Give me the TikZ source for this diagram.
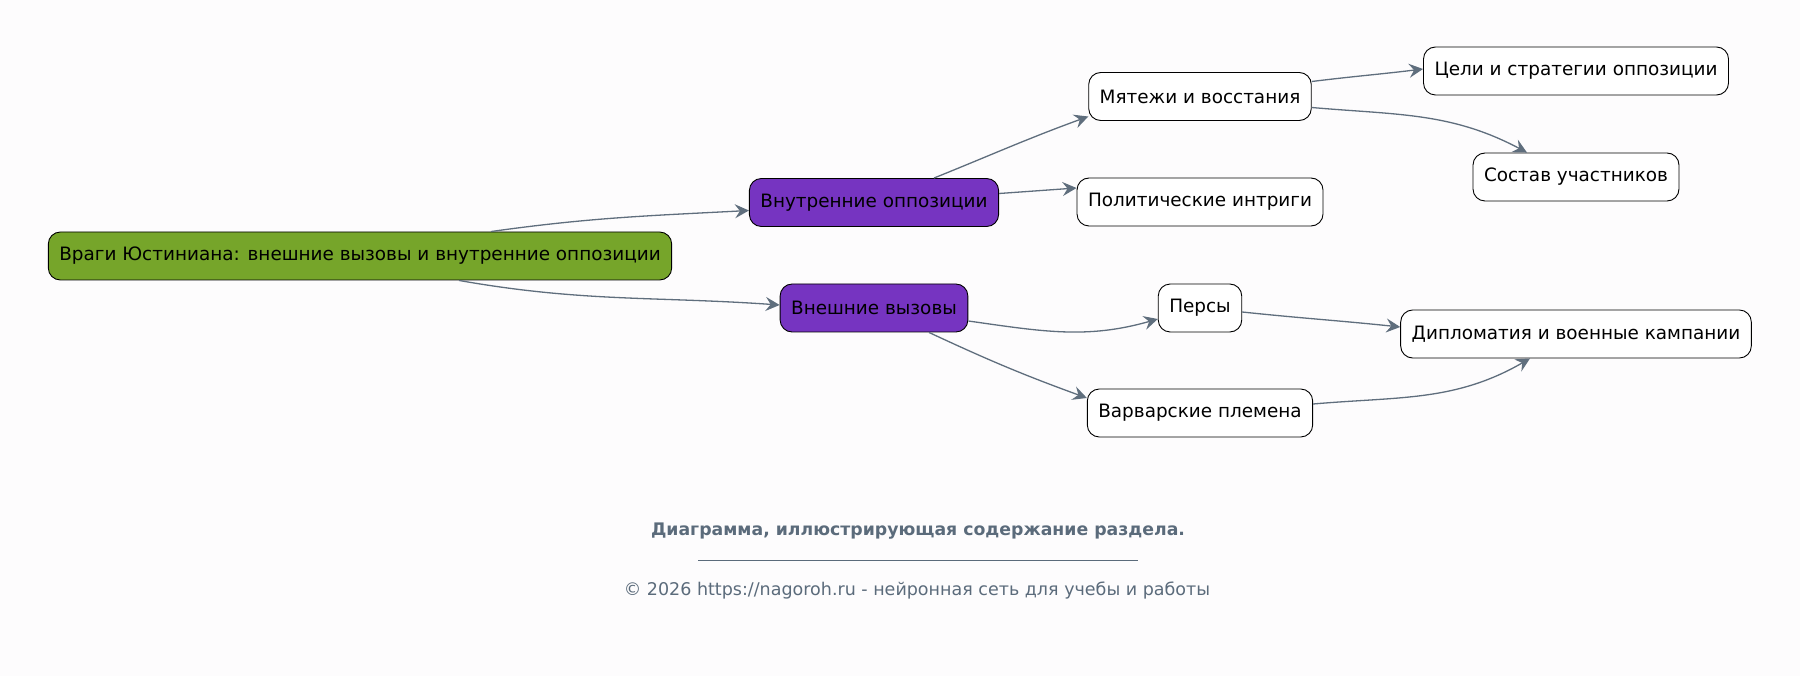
\documentclass[tikz,border=0pt]{standalone}
\usepackage{fontspec}
\setmainfont{DejaVu Sans}
\usetikzlibrary{arrows.meta}
\definecolor{rootgreen}{HTML}{76A52A}
\definecolor{branchviolet}{HTML}{7634C1}
\definecolor{edgeslate}{HTML}{5F6E7D}
\definecolor{captionslate}{HTML}{5B6B7B}
\definecolor{pagebg}{HTML}{FDFCFD}

\begin{document}
\begin{tikzpicture}[x=1pt,y=-1pt,
    box/.style={draw=black,line width=0.9pt,rounded corners=12pt,fill=white,
      minimum height=48pt,inner xsep=11pt,font=\fontsize{18.4}{22}\selectfont},
    rootbox/.style={box,fill=rootgreen},
    branchbox/.style={box,fill=branchviolet},
    link/.style={draw=edgeslate,line width=1.3pt,
      -{Stealth[length=14pt,width=14pt,inset=5pt]}}]
  \fill[pagebg] (0,0) rectangle (1800,676);
  \useasboundingbox (0,0) rectangle (1800,676);

  % nodes
  \node[rootbox] (root) at (360,256) {Враги Юстиниана: внешние вызовы и внутренние оппозиции};
  \node[branchbox] (inner) at (874,202.5) {Внутренние оппозиции};
  \node[branchbox] (outer) at (874,308) {Внешние вызовы};
  \node[box] (riots) at (1200,96.5) {Мятежи и восстания};
  \node[box] (intrig) at (1200,202) {Политические интриги};
  \node[box] (pers) at (1200,308) {Персы};
  \node[box] (barb) at (1200,413) {Варварские племена};
  \node[box] (goals) at (1576,71) {Цели и стратегии оппозиции};
  \node[box] (members) at (1576,177) {Состав участников};
  \node[box] (dipl) at (1576,334) {Дипломатия и военные кампании};

  % connectors
  \draw[link] ([xshift=131pt]root.north) to[out=8,in=183] ([yshift=-8pt]inner.west);
  \draw[link] ([xshift=99pt]root.south) to[out=-10,in=176] ([yshift=3pt]outer.west);
  \draw[link] ([xshift=60pt]inner.north) to[out=22,in=200] ([yshift=-20pt]riots.west);
  \draw[link] ([yshift=9pt]inner.east) to[out=4,in=184] ([yshift=14pt]intrig.west);
  \draw[link] ([yshift=-13pt]outer.east) to[out=-8,in=196] ([yshift=-11pt]pers.west);
  \draw[link] ([xshift=55pt]outer.south) to[out=-25,in=160] ([yshift=15pt]barb.west);
  \draw[link] ([yshift=15pt]riots.east) to[out=7,in=187] ([yshift=2pt]goals.west);
  \draw[link] ([yshift=-11pt]riots.east) to[out=-5,in=152] ([xshift=-49pt]members.north);
  \draw[link] ([yshift=-4pt]pers.east) to[out=-6,in=174] ([yshift=7pt]dipl.west);
  \draw[link] ([yshift=9pt]barb.east) to[out=5,in=210] ([xshift=-46pt]dipl.south);

  % caption
  \node[text=captionslate,font=\fontsize{17.3}{20}\selectfont\bfseries] (caption) at (918,531)
    {Диаграмма, иллюстрирующая содержание раздела.};
  \draw[captionslate,line width=0.8pt] (698,560) -- (1138,560);
  \node[text=captionslate,font=\fontsize{17.5}{21}\selectfont] (copyright) at (917,591)
    {© 2026 https://nagoroh.ru - нейронная сеть для учебы и работы};
\end{tikzpicture}
\end{document}
